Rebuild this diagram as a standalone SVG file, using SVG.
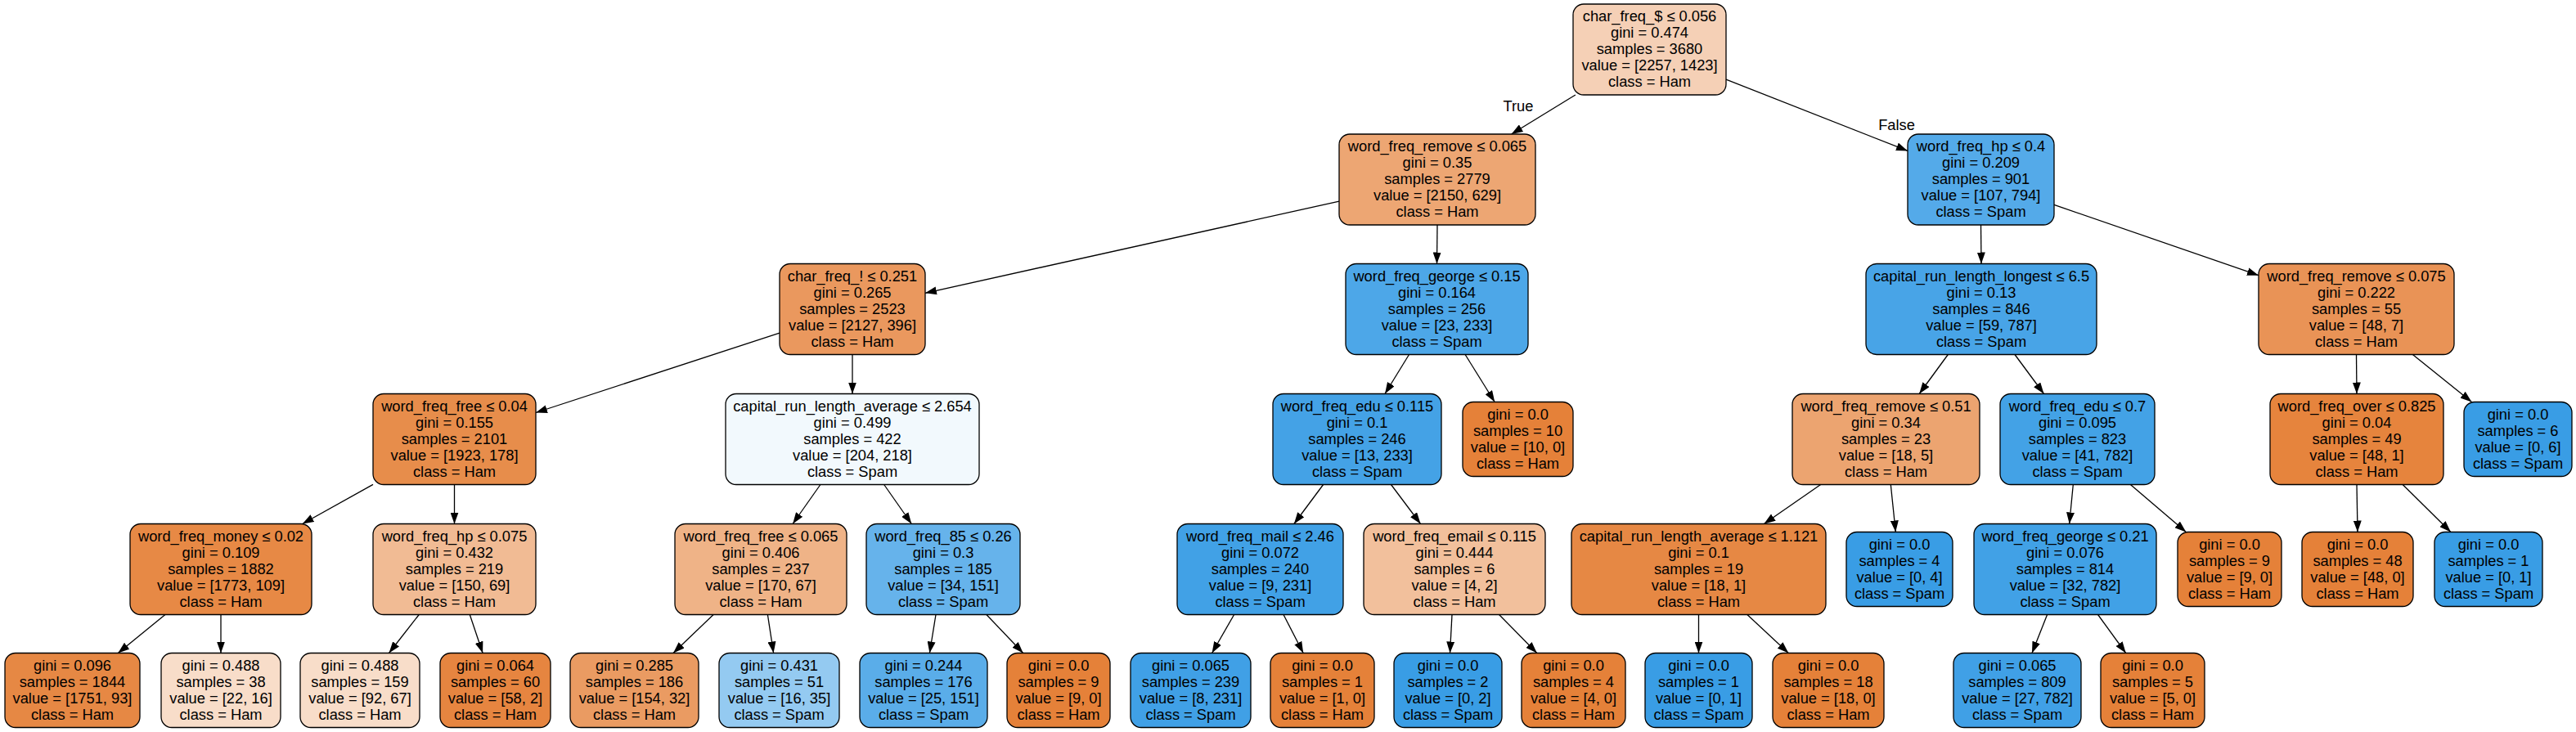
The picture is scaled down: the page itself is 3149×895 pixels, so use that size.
<svg xmlns="http://www.w3.org/2000/svg" width="3149" height="895" viewBox="0 0 3149 895">
<style>
.n rect{stroke:#000;stroke-width:1.3}
.n text,.lbl{font-family:"Liberation Sans",Arial,Helvetica,sans-serif;font-size:18.3px;fill:#000;text-anchor:middle}
.e line{stroke:#000;stroke-width:1.3;marker-end:url(#arr)}
</style>
<defs>
<marker id="arr" markerUnits="userSpaceOnUse" markerWidth="14" markerHeight="10" refX="14" refY="5" orient="auto"><path d="M0,0 L14,5 L0,10 Z" fill="#000"/></marker>
</defs>
<rect width="3149" height="895" fill="#fff"/>
<g id="connectors" class="e">
<line x1="1925.9" y1="116" x2="1847.6" y2="164"/>
<line x1="2110" y1="97.2" x2="2332" y2="184.4"/>
<line x1="1637" y1="246.1" x2="1131" y2="358.3"/>
<line x1="1757" y1="275" x2="1756.5" y2="322.5"/>
<line x1="2421.5" y1="275" x2="2422" y2="322.5"/>
<line x1="2511" y1="250.4" x2="2761" y2="336.7"/>
<line x1="953" y1="407.1" x2="655" y2="504.5"/>
<line x1="1042" y1="433.5" x2="1042" y2="481.5"/>
<line x1="1722.5" y1="433.5" x2="1693" y2="481.5"/>
<line x1="1791.1" y1="433.5" x2="1827.2" y2="491.5"/>
<line x1="2381.3" y1="433.5" x2="2346.2" y2="481.5"/>
<line x1="2463" y1="433.5" x2="2498.5" y2="481.5"/>
<line x1="2880.5" y1="433.5" x2="2881" y2="481.5"/>
<line x1="2949.4" y1="433.5" x2="3021.5" y2="491.5"/>
<line x1="456" y1="592.4" x2="369.7" y2="640.5"/>
<line x1="555.5" y1="592.5" x2="555.5" y2="640.5"/>
<line x1="1002.9" y1="592.5" x2="969.1" y2="640.5"/>
<line x1="1080.7" y1="592.5" x2="1114.3" y2="640.5"/>
<line x1="1617.6" y1="592.5" x2="1581.9" y2="640.5"/>
<line x1="1700.5" y1="592.5" x2="1736.5" y2="640.5"/>
<line x1="2225.6" y1="592.5" x2="2156.4" y2="640.5"/>
<line x1="2311.3" y1="592.5" x2="2317.3" y2="650.5"/>
<line x1="2534.3" y1="592.5" x2="2529.7" y2="640.5"/>
<line x1="2604.4" y1="592.5" x2="2672.3" y2="650.5"/>
<line x1="2881" y1="592.5" x2="2882" y2="650.5"/>
<line x1="2937.2" y1="592.5" x2="2995.9" y2="650.5"/>
<line x1="201.9" y1="751.5" x2="144.3" y2="798.5"/>
<line x1="270" y1="751.5" x2="270" y2="798.5"/>
<line x1="512.2" y1="751.5" x2="475.5" y2="798.5"/>
<line x1="574.3" y1="751.5" x2="590.1" y2="798.5"/>
<line x1="872.1" y1="751.5" x2="823" y2="798.5"/>
<line x1="938.4" y1="751.5" x2="945.6" y2="798.5"/>
<line x1="1144" y1="751.5" x2="1136.4" y2="798.5"/>
<line x1="1205.9" y1="751.5" x2="1250.7" y2="798.5"/>
<line x1="1508.6" y1="751.5" x2="1481.6" y2="798.5"/>
<line x1="1569" y1="751.5" x2="1593.2" y2="798.5"/>
<line x1="1775" y1="751.5" x2="1772.5" y2="798.5"/>
<line x1="1832.6" y1="751.5" x2="1878.8" y2="798.5"/>
<line x1="2076.5" y1="751.5" x2="2076.5" y2="798.5"/>
<line x1="2135.9" y1="751.5" x2="2186.3" y2="798.5"/>
<line x1="2502.6" y1="751.5" x2="2484" y2="798.5"/>
<line x1="2564.6" y1="751.5" x2="2598.7" y2="798.5"/>
<text class="lbl" x="1856" y="136">True</text>
<text class="lbl" x="2318.5" y="159">False</text>
</g>
<g id="n_root" class="n"><rect x="1923" y="5" width="187" height="111" rx="13" fill="#f5d0b6"/><text x="2016.5" y="26"><tspan x="2016.5">char_freq_$ ≤ 0.056</tspan><tspan x="2016.5" dy="20">gini = 0.474</tspan><tspan x="2016.5" dy="20">samples = 3680</tspan><tspan x="2016.5" dy="20">value = [2257, 1423]</tspan><tspan x="2016.5" dy="20">class = Ham</tspan></text></g>
<g id="n_A" class="n"><rect x="1637" y="164" width="240" height="111" rx="13" fill="#eda673"/><text x="1757" y="185"><tspan x="1757">word_freq_remove ≤ 0.065</tspan><tspan x="1757" dy="20">gini = 0.35</tspan><tspan x="1757" dy="20">samples = 2779</tspan><tspan x="1757" dy="20">value = [2150, 629]</tspan><tspan x="1757" dy="20">class = Ham</tspan></text></g>
<g id="n_B" class="n"><rect x="2332" y="164" width="179" height="111" rx="13" fill="#54aae9"/><text x="2421.5" y="185"><tspan x="2421.5">word_freq_hp ≤ 0.4</tspan><tspan x="2421.5" dy="20">gini = 0.209</tspan><tspan x="2421.5" dy="20">samples = 901</tspan><tspan x="2421.5" dy="20">value = [107, 794]</tspan><tspan x="2421.5" dy="20">class = Spam</tspan></text></g>
<g id="n_C" class="n"><rect x="953" y="322.5" width="178" height="111" rx="13" fill="#ea985e"/><text x="1042" y="343.5"><tspan x="1042">char_freq_! ≤ 0.251</tspan><tspan x="1042" dy="20">gini = 0.265</tspan><tspan x="1042" dy="20">samples = 2523</tspan><tspan x="1042" dy="20">value = [2127, 396]</tspan><tspan x="1042" dy="20">class = Ham</tspan></text></g>
<g id="n_D" class="n"><rect x="1645" y="322.5" width="223" height="111" rx="13" fill="#4da7e8"/><text x="1756.5" y="343.5"><tspan x="1756.5">word_freq_george ≤ 0.15</tspan><tspan x="1756.5" dy="20">gini = 0.164</tspan><tspan x="1756.5" dy="20">samples = 256</tspan><tspan x="1756.5" dy="20">value = [23, 233]</tspan><tspan x="1756.5" dy="20">class = Spam</tspan></text></g>
<g id="n_E" class="n"><rect x="2281" y="322.5" width="282" height="111" rx="13" fill="#48a4e7"/><text x="2422" y="343.5"><tspan x="2422">capital_run_length_longest ≤ 6.5</tspan><tspan x="2422" dy="20">gini = 0.13</tspan><tspan x="2422" dy="20">samples = 846</tspan><tspan x="2422" dy="20">value = [59, 787]</tspan><tspan x="2422" dy="20">class = Spam</tspan></text></g>
<g id="n_F" class="n"><rect x="2761" y="322.5" width="239" height="111" rx="13" fill="#e99356"/><text x="2880.5" y="343.5"><tspan x="2880.5">word_freq_remove ≤ 0.075</tspan><tspan x="2880.5" dy="20">gini = 0.222</tspan><tspan x="2880.5" dy="20">samples = 55</tspan><tspan x="2880.5" dy="20">value = [48, 7]</tspan><tspan x="2880.5" dy="20">class = Ham</tspan></text></g>
<g id="n_G" class="n"><rect x="456" y="481.5" width="199" height="111" rx="13" fill="#e78d4b"/><text x="555.5" y="502.5"><tspan x="555.5">word_freq_free ≤ 0.04</tspan><tspan x="555.5" dy="20">gini = 0.155</tspan><tspan x="555.5" dy="20">samples = 2101</tspan><tspan x="555.5" dy="20">value = [1923, 178]</tspan><tspan x="555.5" dy="20">class = Ham</tspan></text></g>
<g id="n_H" class="n"><rect x="887" y="481.5" width="310" height="111" rx="13" fill="#f2f9fd"/><text x="1042" y="502.5"><tspan x="1042">capital_run_length_average ≤ 2.654</tspan><tspan x="1042" dy="20">gini = 0.499</tspan><tspan x="1042" dy="20">samples = 422</tspan><tspan x="1042" dy="20">value = [204, 218]</tspan><tspan x="1042" dy="20">class = Spam</tspan></text></g>
<g id="n_I" class="n"><rect x="1556" y="481.5" width="206" height="111" rx="13" fill="#44a2e6"/><text x="1659" y="502.5"><tspan x="1659">word_freq_edu ≤ 0.115</tspan><tspan x="1659" dy="20">gini = 0.1</tspan><tspan x="1659" dy="20">samples = 246</tspan><tspan x="1659" dy="20">value = [13, 233]</tspan><tspan x="1659" dy="20">class = Spam</tspan></text></g>
<g id="n_J" class="n"><rect x="1788" y="491.5" width="135" height="91" rx="13" fill="#e58139"/><text x="1855.5" y="512.5"><tspan x="1855.5">gini = 0.0</tspan><tspan x="1855.5" dy="20">samples = 10</tspan><tspan x="1855.5" dy="20">value = [10, 0]</tspan><tspan x="1855.5" dy="20">class = Ham</tspan></text></g>
<g id="n_K" class="n"><rect x="2191" y="481.5" width="229" height="111" rx="13" fill="#eca470"/><text x="2305.5" y="502.5"><tspan x="2305.5">word_freq_remove ≤ 0.51</tspan><tspan x="2305.5" dy="20">gini = 0.34</tspan><tspan x="2305.5" dy="20">samples = 23</tspan><tspan x="2305.5" dy="20">value = [18, 5]</tspan><tspan x="2305.5" dy="20">class = Ham</tspan></text></g>
<g id="n_L" class="n"><rect x="2445" y="481.5" width="189" height="111" rx="13" fill="#43a2e6"/><text x="2539.5" y="502.5"><tspan x="2539.5">word_freq_edu ≤ 0.7</tspan><tspan x="2539.5" dy="20">gini = 0.095</tspan><tspan x="2539.5" dy="20">samples = 823</tspan><tspan x="2539.5" dy="20">value = [41, 782]</tspan><tspan x="2539.5" dy="20">class = Spam</tspan></text></g>
<g id="n_M" class="n"><rect x="2775" y="481.5" width="212" height="111" rx="13" fill="#e6843d"/><text x="2881" y="502.5"><tspan x="2881">word_freq_over ≤ 0.825</tspan><tspan x="2881" dy="20">gini = 0.04</tspan><tspan x="2881" dy="20">samples = 49</tspan><tspan x="2881" dy="20">value = [48, 1]</tspan><tspan x="2881" dy="20">class = Ham</tspan></text></g>
<g id="n_N" class="n"><rect x="3012" y="491.5" width="132" height="91" rx="13" fill="#399de5"/><text x="3078" y="512.5"><tspan x="3078">gini = 0.0</tspan><tspan x="3078" dy="20">samples = 6</tspan><tspan x="3078" dy="20">value = [0, 6]</tspan><tspan x="3078" dy="20">class = Spam</tspan></text></g>
<g id="n_O" class="n"><rect x="159" y="640.5" width="222" height="111" rx="13" fill="#e78945"/><text x="270" y="661.5"><tspan x="270">word_freq_money ≤ 0.02</tspan><tspan x="270" dy="20">gini = 0.109</tspan><tspan x="270" dy="20">samples = 1882</tspan><tspan x="270" dy="20">value = [1773, 109]</tspan><tspan x="270" dy="20">class = Ham</tspan></text></g>
<g id="n_P" class="n"><rect x="456" y="640.5" width="199" height="111" rx="13" fill="#f1bb94"/><text x="555.5" y="661.5"><tspan x="555.5">word_freq_hp ≤ 0.075</tspan><tspan x="555.5" dy="20">gini = 0.432</tspan><tspan x="555.5" dy="20">samples = 219</tspan><tspan x="555.5" dy="20">value = [150, 69]</tspan><tspan x="555.5" dy="20">class = Ham</tspan></text></g>
<g id="n_Q" class="n"><rect x="825" y="640.5" width="210" height="111" rx="13" fill="#efb387"/><text x="930" y="661.5"><tspan x="930">word_freq_free ≤ 0.065</tspan><tspan x="930" dy="20">gini = 0.406</tspan><tspan x="930" dy="20">samples = 237</tspan><tspan x="930" dy="20">value = [170, 67]</tspan><tspan x="930" dy="20">class = Ham</tspan></text></g>
<g id="n_R" class="n"><rect x="1059" y="640.5" width="188" height="111" rx="13" fill="#66b3eb"/><text x="1153" y="661.5"><tspan x="1153">word_freq_85 ≤ 0.26</tspan><tspan x="1153" dy="20">gini = 0.3</tspan><tspan x="1153" dy="20">samples = 185</tspan><tspan x="1153" dy="20">value = [34, 151]</tspan><tspan x="1153" dy="20">class = Spam</tspan></text></g>
<g id="n_S" class="n"><rect x="1439" y="640.5" width="203" height="111" rx="13" fill="#41a1e6"/><text x="1540.5" y="661.5"><tspan x="1540.5">word_freq_mail ≤ 2.46</tspan><tspan x="1540.5" dy="20">gini = 0.072</tspan><tspan x="1540.5" dy="20">samples = 240</tspan><tspan x="1540.5" dy="20">value = [9, 231]</tspan><tspan x="1540.5" dy="20">class = Spam</tspan></text></g>
<g id="n_T" class="n"><rect x="1667" y="640.5" width="222" height="111" rx="13" fill="#f2c09c"/><text x="1778" y="661.5"><tspan x="1778">word_freq_email ≤ 0.115</tspan><tspan x="1778" dy="20">gini = 0.444</tspan><tspan x="1778" dy="20">samples = 6</tspan><tspan x="1778" dy="20">value = [4, 2]</tspan><tspan x="1778" dy="20">class = Ham</tspan></text></g>
<g id="n_U" class="n"><rect x="1921" y="640.5" width="311" height="111" rx="13" fill="#e68844"/><text x="2076.5" y="661.5"><tspan x="2076.5">capital_run_length_average ≤ 1.121</tspan><tspan x="2076.5" dy="20">gini = 0.1</tspan><tspan x="2076.5" dy="20">samples = 19</tspan><tspan x="2076.5" dy="20">value = [18, 1]</tspan><tspan x="2076.5" dy="20">class = Ham</tspan></text></g>
<g id="n_V" class="n"><rect x="2257" y="650.5" width="130" height="91" rx="13" fill="#399de5"/><text x="2322" y="671.5"><tspan x="2322">gini = 0.0</tspan><tspan x="2322" dy="20">samples = 4</tspan><tspan x="2322" dy="20">value = [0, 4]</tspan><tspan x="2322" dy="20">class = Spam</tspan></text></g>
<g id="n_W" class="n"><rect x="2413" y="640.5" width="223" height="111" rx="13" fill="#41a1e6"/><text x="2524.5" y="661.5"><tspan x="2524.5">word_freq_george ≤ 0.21</tspan><tspan x="2524.5" dy="20">gini = 0.076</tspan><tspan x="2524.5" dy="20">samples = 814</tspan><tspan x="2524.5" dy="20">value = [32, 782]</tspan><tspan x="2524.5" dy="20">class = Spam</tspan></text></g>
<g id="n_X" class="n"><rect x="2662" y="650.5" width="127" height="91" rx="13" fill="#e58139"/><text x="2725.5" y="671.5"><tspan x="2725.5">gini = 0.0</tspan><tspan x="2725.5" dy="20">samples = 9</tspan><tspan x="2725.5" dy="20">value = [9, 0]</tspan><tspan x="2725.5" dy="20">class = Ham</tspan></text></g>
<g id="n_l17" class="n"><rect x="2814" y="650.5" width="136" height="91" rx="13" fill="#e58139"/><text x="2882" y="671.5"><tspan x="2882">gini = 0.0</tspan><tspan x="2882" dy="20">samples = 48</tspan><tspan x="2882" dy="20">value = [48, 0]</tspan><tspan x="2882" dy="20">class = Ham</tspan></text></g>
<g id="n_l18" class="n"><rect x="2976" y="650.5" width="132" height="91" rx="13" fill="#399de5"/><text x="3042" y="671.5"><tspan x="3042">gini = 0.0</tspan><tspan x="3042" dy="20">samples = 1</tspan><tspan x="3042" dy="20">value = [0, 1]</tspan><tspan x="3042" dy="20">class = Spam</tspan></text></g>
<g id="n_l1" class="n"><rect x="6" y="798.5" width="165" height="91" rx="13" fill="#e68844"/><text x="88.5" y="819.5"><tspan x="88.5">gini = 0.096</tspan><tspan x="88.5" dy="20">samples = 1844</tspan><tspan x="88.5" dy="20">value = [1751, 93]</tspan><tspan x="88.5" dy="20">class = Ham</tspan></text></g>
<g id="n_l2" class="n"><rect x="197" y="798.5" width="146" height="91" rx="13" fill="#f8ddc9"/><text x="270" y="819.5"><tspan x="270">gini = 0.488</tspan><tspan x="270" dy="20">samples = 38</tspan><tspan x="270" dy="20">value = [22, 16]</tspan><tspan x="270" dy="20">class = Ham</tspan></text></g>
<g id="n_l3" class="n"><rect x="367" y="798.5" width="146" height="91" rx="13" fill="#f8ddc9"/><text x="440" y="819.5"><tspan x="440">gini = 0.488</tspan><tspan x="440" dy="20">samples = 159</tspan><tspan x="440" dy="20">value = [92, 67]</tspan><tspan x="440" dy="20">class = Ham</tspan></text></g>
<g id="n_l4" class="n"><rect x="538" y="798.5" width="135" height="91" rx="13" fill="#e68540"/><text x="605.5" y="819.5"><tspan x="605.5">gini = 0.064</tspan><tspan x="605.5" dy="20">samples = 60</tspan><tspan x="605.5" dy="20">value = [58, 2]</tspan><tspan x="605.5" dy="20">class = Ham</tspan></text></g>
<g id="n_l5" class="n"><rect x="697" y="798.5" width="157" height="91" rx="13" fill="#ea9b62"/><text x="775.5" y="819.5"><tspan x="775.5">gini = 0.285</tspan><tspan x="775.5" dy="20">samples = 186</tspan><tspan x="775.5" dy="20">value = [154, 32]</tspan><tspan x="775.5" dy="20">class = Ham</tspan></text></g>
<g id="n_l6" class="n"><rect x="879" y="798.5" width="147" height="91" rx="13" fill="#94caf1"/><text x="952.5" y="819.5"><tspan x="952.5">gini = 0.431</tspan><tspan x="952.5" dy="20">samples = 51</tspan><tspan x="952.5" dy="20">value = [16, 35]</tspan><tspan x="952.5" dy="20">class = Spam</tspan></text></g>
<g id="n_l7" class="n"><rect x="1051" y="798.5" width="156" height="91" rx="13" fill="#5aade9"/><text x="1129" y="819.5"><tspan x="1129">gini = 0.244</tspan><tspan x="1129" dy="20">samples = 176</tspan><tspan x="1129" dy="20">value = [25, 151]</tspan><tspan x="1129" dy="20">class = Spam</tspan></text></g>
<g id="n_l8" class="n"><rect x="1231" y="798.5" width="126" height="91" rx="13" fill="#e58139"/><text x="1294" y="819.5"><tspan x="1294">gini = 0.0</tspan><tspan x="1294" dy="20">samples = 9</tspan><tspan x="1294" dy="20">value = [9, 0]</tspan><tspan x="1294" dy="20">class = Ham</tspan></text></g>
<g id="n_l9" class="n"><rect x="1382" y="798.5" width="147" height="91" rx="13" fill="#40a0e6"/><text x="1455.5" y="819.5"><tspan x="1455.5">gini = 0.065</tspan><tspan x="1455.5" dy="20">samples = 239</tspan><tspan x="1455.5" dy="20">value = [8, 231]</tspan><tspan x="1455.5" dy="20">class = Spam</tspan></text></g>
<g id="n_l10" class="n"><rect x="1553" y="798.5" width="127" height="91" rx="13" fill="#e58139"/><text x="1616.5" y="819.5"><tspan x="1616.5">gini = 0.0</tspan><tspan x="1616.5" dy="20">samples = 1</tspan><tspan x="1616.5" dy="20">value = [1, 0]</tspan><tspan x="1616.5" dy="20">class = Ham</tspan></text></g>
<g id="n_l11" class="n"><rect x="1704" y="798.5" width="132" height="91" rx="13" fill="#399de5"/><text x="1770" y="819.5"><tspan x="1770">gini = 0.0</tspan><tspan x="1770" dy="20">samples = 2</tspan><tspan x="1770" dy="20">value = [0, 2]</tspan><tspan x="1770" dy="20">class = Spam</tspan></text></g>
<g id="n_l12" class="n"><rect x="1860" y="798.5" width="127" height="91" rx="13" fill="#e58139"/><text x="1923.5" y="819.5"><tspan x="1923.5">gini = 0.0</tspan><tspan x="1923.5" dy="20">samples = 4</tspan><tspan x="1923.5" dy="20">value = [4, 0]</tspan><tspan x="1923.5" dy="20">class = Ham</tspan></text></g>
<g id="n_l13" class="n"><rect x="2011" y="798.5" width="131" height="91" rx="13" fill="#399de5"/><text x="2076.5" y="819.5"><tspan x="2076.5">gini = 0.0</tspan><tspan x="2076.5" dy="20">samples = 1</tspan><tspan x="2076.5" dy="20">value = [0, 1]</tspan><tspan x="2076.5" dy="20">class = Spam</tspan></text></g>
<g id="n_l14" class="n"><rect x="2167" y="798.5" width="136" height="91" rx="13" fill="#e58139"/><text x="2235" y="819.5"><tspan x="2235">gini = 0.0</tspan><tspan x="2235" dy="20">samples = 18</tspan><tspan x="2235" dy="20">value = [18, 0]</tspan><tspan x="2235" dy="20">class = Ham</tspan></text></g>
<g id="n_l15" class="n"><rect x="2388" y="798.5" width="156" height="91" rx="13" fill="#40a0e6"/><text x="2466" y="819.5"><tspan x="2466">gini = 0.065</tspan><tspan x="2466" dy="20">samples = 809</tspan><tspan x="2466" dy="20">value = [27, 782]</tspan><tspan x="2466" dy="20">class = Spam</tspan></text></g>
<g id="n_l16" class="n"><rect x="2568" y="798.5" width="127" height="91" rx="13" fill="#e58139"/><text x="2631.5" y="819.5"><tspan x="2631.5">gini = 0.0</tspan><tspan x="2631.5" dy="20">samples = 5</tspan><tspan x="2631.5" dy="20">value = [5, 0]</tspan><tspan x="2631.5" dy="20">class = Ham</tspan></text></g>
</svg>
